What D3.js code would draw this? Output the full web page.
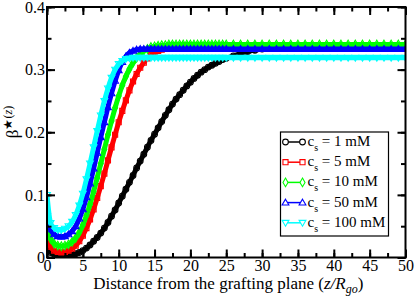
<!DOCTYPE html>
<html lang="en">
<head>
  <meta charset="UTF-8">
  <title>beta star profiles</title>
  <script src="https://d3js.org/d3.v7.min.js"></script>
  <style>
    body { margin: 0; background: #fff; }
    svg { display: block; font-family: "Liberation Serif", "Times New Roman", serif; }
  </style>
</head>
<body>
  <svg id="chart" width="415" height="299"></svg>
  <script>
    // distance from the grafting plane (z/Rgo)
    const zValues = [0, 0.5, 1, 1.5, 2, 2.5, 3, 3.5, 4, 4.5, 5, 5.5, 6, 6.5, 7, 7.5, 8, 8.5, 9, 9.5,
      10, 10.5, 11, 11.5, 12, 12.5, 13, 13.5, 14, 14.5, 15, 15.5, 16, 16.5, 17, 17.5, 18, 18.5, 19, 19.5,
      20, 20.5, 21, 21.5, 22, 22.5, 23, 23.5, 24, 24.5, 25,
      26, 27, 28, 29, 30, 31, 32, 33, 34, 35, 36, 37, 38, 39, 40, 41, 42, 43, 44, 45, 46, 47, 48, 49, 50];

    const beta1mM = [0.015, 0.008, 0.005, 0.003, 0.002, 0.002, 0.003, 0.004, 0.006, 0.008, 0.011, 0.015, 0.020, 0.026, 0.032, 0.039, 0.047, 0.056, 0.066, 0.076,
      0.087, 0.098, 0.109, 0.120, 0.131, 0.143, 0.154, 0.165, 0.176, 0.187, 0.197, 0.207, 0.217, 0.227, 0.236, 0.245, 0.253, 0.260, 0.267, 0.274,
      0.280, 0.286, 0.291, 0.296, 0.300, 0.304, 0.307, 0.310, 0.313, 0.316, 0.318,
      0.322, 0.326, 0.329, 0.331, 0.333, 0.334, 0.335, 0.335, 0.335, 0.335, 0.335, 0.335, 0.335, 0.335, 0.335, 0.335, 0.335, 0.335, 0.335, 0.335, 0.335, 0.335, 0.335, 0.335, 0.335];

    const beta5mM = [0.035, 0.017, 0.011, 0.009, 0.008, 0.009, 0.011, 0.014, 0.019, 0.026, 0.035, 0.047, 0.061, 0.077, 0.095, 0.114, 0.134, 0.155, 0.176, 0.196,
      0.216, 0.234, 0.251, 0.267, 0.281, 0.293, 0.303, 0.311, 0.318, 0.323, 0.327, 0.330, 0.332, 0.334, 0.335, 0.336, 0.337, 0.337, 0.338, 0.338,
      0.338, 0.338, 0.338, 0.338, 0.338, 0.338, 0.338, 0.338, 0.338, 0.338, 0.338,
      0.338, 0.338, 0.338, 0.338, 0.338, 0.338, 0.338, 0.338, 0.338, 0.338, 0.338, 0.338, 0.338, 0.338, 0.338, 0.338, 0.338, 0.338, 0.338, 0.338, 0.338, 0.338, 0.338, 0.338, 0.338];

    const beta10mM = [0.060, 0.030, 0.022, 0.019, 0.018, 0.019, 0.021, 0.025, 0.031, 0.040, 0.052, 0.067, 0.085, 0.105, 0.127, 0.150, 0.173, 0.196, 0.218, 0.239,
      0.258, 0.275, 0.289, 0.301, 0.311, 0.319, 0.325, 0.330, 0.333, 0.336, 0.337, 0.338, 0.339, 0.339, 0.340, 0.340, 0.340, 0.340, 0.340, 0.340,
      0.340, 0.340, 0.340, 0.340, 0.340, 0.340, 0.340, 0.340, 0.340, 0.340, 0.340,
      0.340, 0.340, 0.340, 0.340, 0.340, 0.340, 0.340, 0.340, 0.340, 0.340, 0.340, 0.340, 0.340, 0.340, 0.340, 0.340, 0.340, 0.340, 0.340, 0.340, 0.340, 0.340, 0.340, 0.340, 0.340];

    const beta50mM = [0.075, 0.045, 0.037, 0.034, 0.033, 0.034, 0.037, 0.042, 0.050, 0.062, 0.077, 0.096, 0.118, 0.142, 0.167, 0.192, 0.216, 0.240, 0.262, 0.282,
      0.299, 0.312, 0.321, 0.327, 0.330, 0.332, 0.333, 0.333, 0.333, 0.333, 0.333, 0.333, 0.333, 0.333, 0.333, 0.333, 0.333, 0.333, 0.333, 0.333,
      0.333, 0.333, 0.333, 0.333, 0.333, 0.333, 0.333, 0.333, 0.333, 0.333, 0.333,
      0.333, 0.333, 0.333, 0.333, 0.333, 0.333, 0.333, 0.333, 0.333, 0.333, 0.333, 0.333, 0.333, 0.333, 0.333, 0.333, 0.333, 0.333, 0.333, 0.333, 0.333, 0.333, 0.333, 0.333, 0.333];

    const beta100mM = [0.100, 0.055, 0.047, 0.044, 0.044, 0.046, 0.050, 0.057, 0.068, 0.083, 0.102, 0.125, 0.150, 0.176, 0.202, 0.227, 0.250, 0.270, 0.287, 0.300,
      0.309, 0.314, 0.317, 0.318, 0.319, 0.319, 0.319, 0.319, 0.319, 0.319, 0.319, 0.319, 0.319, 0.319, 0.319, 0.319, 0.319, 0.319, 0.319, 0.319,
      0.319, 0.319, 0.319, 0.319, 0.319, 0.319, 0.319, 0.319, 0.319, 0.319, 0.319,
      0.319, 0.319, 0.319, 0.319, 0.319, 0.319, 0.319, 0.319, 0.319, 0.319, 0.319, 0.319, 0.319, 0.319, 0.319, 0.319, 0.319, 0.319, 0.319, 0.319, 0.319, 0.319, 0.319, 0.319, 0.319];

    const seriesLabels = ["1 mM", "5 mM", "10 mM", "50 mM", "100 mM"];
    const seriesValues = [beta1mM, beta5mM, beta10mM, beta50mM, beta100mM];
    const seriesColors = ["#000000", "#ff0000", "#00ff00", "#0000ff", "#00ffff"];
    const seriesSymbols = ["circle", "square", "diamond", "triangleUp", "triangleDown"];

    const xMajorTicks = [0, 5, 10, 15, 20, 25, 30, 35, 40, 45, 50];
    const yMajorTicks = [0, 0.1, 0.2, 0.3, 0.4];

    const svg = d3.select("#chart");
    const margin = { top: 7, right: 9.5, bottom: 41.5, left: 47 };
    const width = 415 - margin.left - margin.right;
    const height = 299 - margin.top - margin.bottom;

    const g = svg.append("g")
                 .attr("transform", `translate(${margin.left}, ${margin.top})`);

    const x = d3.scaleLinear().domain([0, 50]).range([0, width]);
    const y = d3.scaleLinear().domain([0, 0.4]).range([height, 0]);

    // symbol path generator
    function symbolPath(kind) {
      if (kind === "circle") return d3.symbol(d3.symbolCircle, 26)();
      if (kind === "square") return d3.symbol(d3.symbolSquare, 26)();
      if (kind === "diamond") return d3.symbol(d3.symbolDiamond, 22)();
      if (kind === "triangleUp") return "M0,-3.4L3.4,2.4L-3.4,2.4Z";
      return "M0,3.4L3.4,-2.4L-3.4,-2.4Z";
    }

    svg.append("clipPath").attr("id", "plotClip")
      .append("rect").attr("width", width).attr("height", height);

    const plot = g.append("g").attr("clip-path", "url(#plotClip)");

    const line = d3.line()
      .x((d, i) => x(zValues[i]))
      .y(d => y(d))
      .curve(d3.curveMonotoneX);

    seriesValues.forEach((vals, k) => {
      plot.append("path")
        .attr("d", line(vals))
        .attr("fill", "none")
        .attr("stroke", seriesColors[k])
        .attr("stroke-width", 5);
      plot.selectAll(null)
        .data(vals)
        .enter().append("path")
        .attr("d", symbolPath(seriesSymbols[k]))
        .attr("transform", (d, i) => `translate(${x(zValues[i])},${y(d)})`)
        .attr("fill", "none")
        .attr("stroke", seriesColors[k])
        .attr("stroke-width", 1.1);
    });

    // axes with inward ticks on all four sides
    const xMinor = d3.range(0, 50.01, 2.5);
    const yMinor = d3.range(0, 0.401, 0.05);

    function styleAxis(sel) {
      sel.select(".domain").remove();
      sel.selectAll("line").attr("stroke", "#000").attr("stroke-width", 2);
      sel.selectAll("text").attr("font-family", "Liberation Serif").attr("font-size", 16).attr("fill", "#000");
    }

    g.append("g").attr("transform", `translate(0,${height})`)
      .call(d3.axisBottom(x).tickValues(xMinor).tickSize(-4.5).tickFormat(""))
      .call(styleAxis);
    g.append("g").attr("transform", `translate(0,${height})`)
      .call(d3.axisBottom(x).tickValues(xMajorTicks).tickSize(-8).tickPadding(2).tickFormat(d3.format("d")))
      .call(styleAxis);
    g.append("g")
      .call(d3.axisTop(x).tickValues(xMinor).tickSize(-4.5).tickFormat(""))
      .call(styleAxis);
    g.append("g")
      .call(d3.axisTop(x).tickValues(xMajorTicks).tickSize(-8).tickFormat(""))
      .call(styleAxis);

    g.append("g")
      .call(d3.axisLeft(y).tickValues(yMinor).tickSize(-4.5).tickFormat(""))
      .call(styleAxis);
    g.append("g")
      .call(d3.axisLeft(y).tickValues(yMajorTicks).tickSize(-8).tickPadding(2).tickFormat(d => d === 0 ? "0" : d3.format(".1f")(d)))
      .call(styleAxis);
    g.append("g").attr("transform", `translate(${width},0)`)
      .call(d3.axisRight(y).tickValues(yMinor).tickSize(-4.5).tickFormat(""))
      .call(styleAxis);
    g.append("g").attr("transform", `translate(${width},0)`)
      .call(d3.axisRight(y).tickValues(yMajorTicks).tickSize(-8).tickFormat(""))
      .call(styleAxis);

    // frame
    g.append("rect")
      .attr("width", width).attr("height", height)
      .attr("fill", "none").attr("stroke", "#000").attr("stroke-width", 2);

    // x-axis label
    const xl = g.append("text")
      .attr("x", width / 2 + 2)
      .attr("y", height + 31)
      .attr("text-anchor", "middle")
      .attr("font-size", 17);
    xl.append("tspan").text("Distance from the grafting plane (");
    xl.append("tspan").attr("font-style", "italic").text("z/R");
    xl.append("tspan").attr("font-style", "italic").attr("font-size", 12).attr("dy", 4).text("go");
    xl.append("tspan").attr("dy", -4).text(")");

    // y-axis label
    const yl = svg.append("text")
      .attr("transform", `translate(18, 122) rotate(-90)`)
      .attr("text-anchor", "middle")
      .attr("font-size", 17);
    yl.append("tspan").text("β");
    yl.append("tspan").attr("font-size", 12).attr("dy", -6).text("★");
    yl.append("tspan").attr("font-size", 12).text("(");
    yl.append("tspan").attr("font-size", 12).attr("font-style", "italic").text("z");
    yl.append("tspan").attr("font-size", 12).text(")");

    // legend
    const legend = svg.append("g").attr("transform", "translate(280.5, 132)");
    legend.append("rect")
      .attr("width", 108).attr("height", 104)
      .attr("fill", "#fff").attr("stroke", "#000").attr("stroke-width", 1.2);

    seriesLabels.forEach((lab, k) => {
      const row = legend.append("g").attr("transform", `translate(0, ${10 + k * 20.2})`);
      row.append("line")
        .attr("x1", 5).attr("x2", 22)
        .attr("stroke", seriesColors[k]).attr("stroke-width", 1.5);
      [5, 22].forEach(px => {
        row.append("path")
          .attr("d", symbolPath(seriesSymbols[k]))
          .attr("transform", `translate(${px},0)`)
          .attr("fill", "#fff")
          .attr("stroke", seriesColors[k])
          .attr("stroke-width", 1.1);
      });
      const t = row.append("text")
        .attr("x", 27).attr("y", 4)
        .attr("font-size", 15);
      t.append("tspan").text("c");
      t.append("tspan").attr("font-size", 10).attr("dy", 5).text("s");
      t.append("tspan").attr("dy", -5).text(" = " + lab);
    });
  </script>
</body>
</html>
